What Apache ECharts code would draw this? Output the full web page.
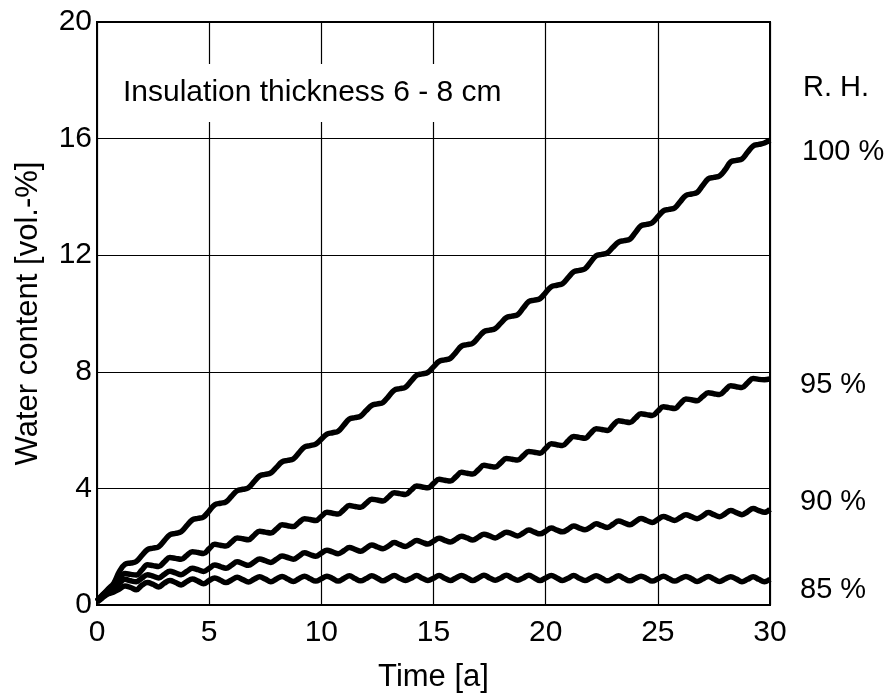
<!DOCTYPE html>
<html>
<head>
<meta charset="utf-8">
<script src="https://cdn.jsdelivr.net/npm/echarts@6/dist/echarts.min.js"></script>
<style>
html,body{margin:0;padding:0;background:#fff;}
#chart{width:888px;height:698px;}
</style>
</head>
<body>
<div id="chart"></div>
<script>
// Sample spacing of the readings along the time axis (years)
const sampleStep = 0.25;
const xTicks = [0, 5, 10, 15, 20, 25, 30];
const yTicks = [0, 4, 8, 12, 16, 20];
const seriesNames = ['100 %', '95 %', '90 %', '85 %'];

// Water content [vol.-%] every quarter year, 0 .. 30 a
const rh100 = [
0.12,0.35,0.55,0.75, 1.15,1.40,1.44,1.49, 1.70,1.90,1.95,2.00, 2.21,2.41,2.46,2.51,
2.72,2.92,2.97,3.02, 3.23,3.44,3.49,3.54, 3.73,3.92,3.97,4.02, 4.23,4.43,4.48,4.53,
4.72,4.91,4.96,5.01, 5.22,5.42,5.47,5.52, 5.69,5.86,5.91,5.96, 6.17,6.38,6.43,6.48,
6.67,6.85,6.90,6.95, 7.16,7.37,7.42,7.47, 7.68,7.88,7.93,7.98, 8.17,8.36,8.41,8.46,
8.67,8.88,8.93,8.98, 9.18,9.38,9.43,9.48, 9.67,9.86,9.91,9.96, 10.19,10.41,10.46,10.51,
10.72,10.92,10.97,11.02, 11.23,11.43,11.48,11.53, 11.76,11.98,12.03,12.08, 12.27,12.45,12.50,12.55,
12.78,13.01,13.06,13.11, 13.32,13.52,13.57,13.62, 13.84,14.05,14.10,14.15, 14.39,14.62,14.67,14.72,
14.93,15.20,15.25,15.30, 15.53,15.75,15.80,15.85, 15.95];

const rh95 = [
0.15,0.35,0.50,0.62, 0.90,1.08,1.05,1.03, 1.20,1.38,1.35,1.32, 1.48,1.63,1.60,1.57,
1.70,1.83,1.80,1.77, 1.93,2.08,2.05,2.02, 2.16,2.30,2.27,2.24, 2.39,2.53,2.50,2.47,
2.61,2.75,2.72,2.69, 2.83,2.96,2.93,2.90, 3.04,3.18,3.15,3.12, 3.27,3.41,3.38,3.35,
3.49,3.63,3.60,3.57, 3.71,3.85,3.82,3.79, 3.94,4.08,4.05,4.02, 4.17,4.31,4.28,4.25,
4.40,4.55,4.52,4.49, 4.64,4.79,4.76,4.73, 4.88,5.03,5.00,4.97, 5.12,5.27,5.24,5.21,
5.37,5.53,5.50,5.47, 5.63,5.78,5.75,5.72, 5.89,6.05,6.02,5.99, 6.16,6.32,6.29,6.26,
6.41,6.56,6.53,6.50, 6.65,6.80,6.77,6.74, 6.91,7.07,7.04,7.01, 7.15,7.28,7.25,7.22,
7.37,7.52,7.49,7.46, 7.62,7.77,7.74,7.73, 7.76];

const rh90 = [
0.12,0.30,0.45,0.58, 0.75,0.88,0.83,0.80, 0.92,1.04,0.99,0.93, 1.05,1.16,1.10,1.04,
1.15,1.26,1.21,1.15, 1.26,1.37,1.32,1.26, 1.37,1.48,1.42,1.36, 1.47,1.58,1.52,1.46,
1.57,1.68,1.63,1.57, 1.68,1.79,1.73,1.67, 1.78,1.88,1.82,1.76, 1.86,1.97,1.91,1.84,
1.95,2.06,1.99,1.93, 2.03,2.14,2.07,2.01, 2.11,2.21,2.15,2.09, 2.19,2.29,2.22,2.16,
2.26,2.36,2.30,2.23, 2.33,2.43,2.37,2.30, 2.40,2.50,2.44,2.37, 2.47,2.57,2.50,2.44,
2.53,2.64,2.57,2.51, 2.60,2.71,2.64,2.58, 2.67,2.79,2.72,2.66, 2.77,2.88,2.82,2.75,
2.86,2.97,2.90,2.83, 2.94,3.04,2.97,2.90, 3.00,3.10,3.03,2.96, 3.06,3.17,3.10,3.03,
3.13,3.24,3.17,3.10, 3.20,3.31,3.24,3.18, 3.28];

const rh85 = [
0.10,0.25,0.38,0.45, 0.55,0.65,0.60,0.52, 0.68,0.77,0.71,0.62, 0.75,0.84,0.77,0.69,
0.80,0.89,0.82,0.73, 0.84,0.93,0.85,0.77, 0.86,0.95,0.87,0.79, 0.88,0.97,0.89,0.80,
0.89,0.98,0.89,0.81, 0.90,0.99,0.90,0.82, 0.90,0.99,0.91,0.82, 0.91,1.00,0.91,0.83,
0.91,1.00,0.92,0.83, 0.92,1.01,0.92,0.84, 0.92,1.01,0.92,0.84, 0.92,1.01,0.92,0.84,
0.93,1.01,0.93,0.84, 0.93,1.02,0.93,0.85, 0.93,1.02,0.93,0.85, 0.93,1.02,0.93,0.84,
0.93,1.01,0.93,0.84, 0.92,1.01,0.92,0.84, 0.92,1.00,0.92,0.83, 0.91,1.00,0.91,0.83,
0.91,0.99,0.91,0.82, 0.90,0.99,0.90,0.82, 0.90,0.98,0.90,0.81, 0.89,0.98,0.89,0.81,
0.89,0.97,0.89,0.80, 0.88,0.97,0.88,0.80, 0.88];

const allSeries = [rh100, rh95, rh90, rh85];

const FONT = '"Liberation Sans", Arial, Helvetica, sans-serif';
const chart = echarts.init(document.getElementById('chart'), null, {renderer: 'canvas'});

function toPoints(arr) { return arr.map((v, i) => [i * sampleStep, v]); }

const option = {
  animation: false,
  backgroundColor: '#fff',
  textStyle: {fontFamily: FONT, color: '#000'},
  grid: {left: 97, right: 118, top: 22, bottom: 89, show: true, borderColor: '#000', borderWidth: 2, backgroundColor: 'transparent'},
  xAxis: {
    type: 'value', min: xTicks[0], max: xTicks[xTicks.length - 1], interval: xTicks[1] - xTicks[0],
    axisLine: {show: true, lineStyle: {color: '#000', width: 2}},
    axisTick: {show: false},
    axisLabel: {color: '#000', fontSize: 30, fontFamily: FONT, margin: 13},
    splitLine: {show: true, lineStyle: {color: '#000', width: 1.2}},
    name: 'Time [a]', nameLocation: 'middle', nameGap: 57,
    nameTextStyle: {color: '#000', fontSize: 31, fontFamily: FONT}
  },
  yAxis: {
    type: 'value', min: yTicks[0], max: yTicks[yTicks.length - 1], interval: yTicks[1] - yTicks[0],
    axisLine: {show: true, lineStyle: {color: '#000', width: 2}},
    axisTick: {show: false},
    axisLabel: {color: '#000', fontSize: 30, fontFamily: FONT, margin: 5},
    splitLine: {show: true, lineStyle: {color: '#000', width: 1.2}},
    name: 'Water content [vol.-%]', nameLocation: 'middle', nameGap: 53,
    nameTextStyle: {color: '#000', fontSize: 31, fontFamily: FONT}
  },
  series: allSeries.map((arr, k) => ({
    name: seriesNames[k],
    type: 'line',
    data: toPoints(arr),
    showSymbol: false,
    smooth: 0.4,
    lineStyle: {color: '#000', width: 5.5},
    z: 5
  })),
  graphic: [
    {type: 'text', z: 50, style: {text: 'Insulation thickness 6 - 8 cm', x: 112, y: 93, verticalAlign: 'middle',
      font: '30px ' + FONT, fill: '#000', backgroundColor: '#fff', padding: [14, 11]}},
    {type: 'text', style: {text: 'R. H.', x: 803, y: 88, verticalAlign: 'middle', font: '29px ' + FONT, fill: '#000'}},
    {type: 'text', style: {text: seriesNames[0], x: 802, y: 152, verticalAlign: 'middle', font: '29px ' + FONT, fill: '#000'}},
    {type: 'text', style: {text: seriesNames[1], x: 800, y: 385, verticalAlign: 'middle', font: '29px ' + FONT, fill: '#000'}},
    {type: 'text', style: {text: seriesNames[2], x: 800, y: 502, verticalAlign: 'middle', font: '29px ' + FONT, fill: '#000'}},
    {type: 'text', style: {text: seriesNames[3], x: 800, y: 590, verticalAlign: 'middle', font: '29px ' + FONT, fill: '#000'}}
  ]
};
chart.setOption(option);
</script>
</body>
</html>
